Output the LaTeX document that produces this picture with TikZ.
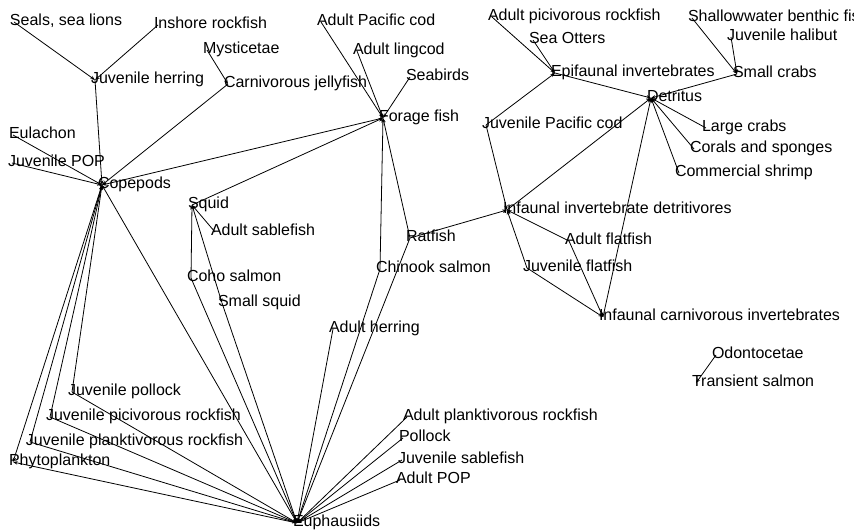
\documentclass[tikz,border=0pt]{standalone}
\usepackage{fontspec}
\setmainfont{Liberation Sans}
\usetikzlibrary{arrows.meta}
\newcommand\fwspot[4]{\coordinate (#1) at (#2,#3); \node[lab] (#1-l) at ([xshift=-3.2pt,yshift=-2.8pt]#1) {#4};}
\begin{document}
\begin{tikzpicture}[x=0.75pt,y=-0.75pt,
  lab/.style={anchor=base west,inner sep=0pt,font=\fontsize{12}{14}\selectfont},
  eat/.style={draw=black,line width=0.6pt,-{Stealth[length=3.5pt,width=2.6pt]}}]
\useasboundingbox (0,0) rectangle (854,531);
\clip (0,0) rectangle (854,531);
\fwspot{seals}{14}{22}{Seals, sea lions}
\fwspot{inshore}{158}{25}{Inshore rockfish}
\fwspot{myst}{207}{50}{Mysticetae}
\fwspot{juvher}{95}{80}{Juvenile herring}
\fwspot{jelly}{228}{84}{Carnivorous jellyfish}
\fwspot{eulachon}{13}{135}{Eulachon}
\fwspot{juvpop}{12}{163}{Juvenile POP}
\fwspot{cope}{102}{185}{Copepods}
\fwspot{squid}{192}{205}{Squid}
\fwspot{adsable}{215}{232}{Adult sablefish}
\fwspot{coho}{191}{278}{Coho salmon}
\fwspot{smsquid}{222}{303}{Small squid}
\fwspot{adpcod}{321}{22}{Adult Pacific cod}
\fwspot{ling}{357}{51}{Adult lingcod}
\fwspot{seabirds}{410}{77}{Seabirds}
\fwspot{forage}{383}{118}{Forage fish}
\fwspot{adpicr}{492}{17}{Adult picivorous rockfish}
\fwspot{otters}{533}{40}{Sea Otters}
\fwspot{epi}{555}{73}{Epifaunal invertebrates}
\fwspot{juvpcod}{486}{125}{Juvenile Pacific cod}
\fwspot{shallow}{692}{18}{Shallowwater benthic fish}
\fwspot{juvhal}{731}{37}{Juvenile halibut}
\fwspot{smcrabs}{737}{74}{Small crabs}
\fwspot{detritus}{651}{98}{Detritus}
\fwspot{lgcrabs}{706}{128}{Large crabs}
\fwspot{corals}{694}{149}{Corals and sponges}
\fwspot{shrimp}{679}{173}{Commercial shrimp}
\fwspot{infdet}{507}{210}{Infaunal invertebrate detritivores}
\fwspot{ratfish}{410}{238}{Ratfish}
\fwspot{chinook}{380}{269}{Chinook salmon}
\fwspot{adher}{333}{329}{Adult herring}
\fwspot{juvflat}{527}{268}{Juvenile flatfish}
\fwspot{adflat}{569}{241}{Adult flatfish}
\fwspot{infcarn}{603}{317}{Infaunal carnivorous invertebrates}
\fwspot{odonto}{716}{355}{Odontocetae}
\fwspot{transient}{696}{383}{Transient salmon}
\fwspot{juvpoll}{72}{392}{Juvenile pollock}
\fwspot{juvpicr}{50}{417}{Juvenile picivorous rockfish}
\fwspot{juvplr}{30}{442}{Juvenile planktivorous rockfish}
\fwspot{phyto}{13}{462}{Phytoplankton}
\fwspot{euph}{297}{523}{Euphausiids}
\fwspot{adplr}{407}{417}{Adult planktivorous rockfish}
\fwspot{pollock}{403}{438}{Pollock}
\fwspot{juvsable}{402}{460}{Juvenile sablefish}
\fwspot{adpop}{400}{480}{Adult POP}
\foreach \a/\b in {seals/juvher, inshore/juvher, juvher/cope, myst/jelly, jelly/cope,
  eulachon/cope, juvpop/cope, forage/cope, squid/forage, adpcod/forage, ling/forage,
  seabirds/forage, chinook/forage, ratfish/forage, chinook/euph, ratfish/euph, adher/euph,
  ratfish/infdet, infdet/detritus, juvpcod/epi, juvpcod/infdet, juvflat/infdet, adflat/infdet,
  adflat/infcarn, juvflat/infcarn, infcarn/detritus, epi/detritus, smcrabs/detritus,
  lgcrabs/detritus, corals/detritus, shrimp/detritus, shallow/smcrabs, juvhal/smcrabs,
  adpicr/epi, otters/epi, odonto/transient, coho/squid, adsable/squid, squid/smsquid,
  coho/euph, smsquid/euph, euph/cope, juvpoll/cope, juvpicr/cope, juvplr/cope, cope/phyto,
  juvpoll/euph, juvpicr/euph, juvplr/euph, euph/phyto, adplr/euph, pollock/euph,
  juvsable/euph, adpop/euph}
  \draw[eat] (\a) -- (\b);
\end{tikzpicture}
\end{document}
